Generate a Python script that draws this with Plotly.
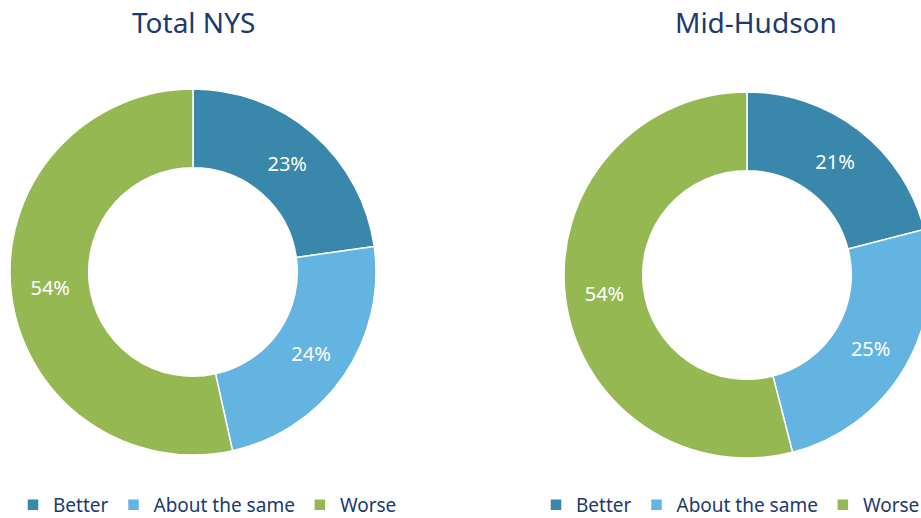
import plotly.graph_objects as go

categories = ["Better", "About the same", "Worse"]
total_nys = [23, 24, 54]
mid_hudson = [21, 25, 54]
titles = ["Total NYS", "Mid-Hudson"]

colors = ["#3A87AC", "#64B4E2", "#95B853"]
navy = "#1B3A6E"
W, H = 930, 518  # slightly wider than the window: the right donut is clipped in the reference


def xdom(left, right):
    return [left / W, right / W]


def ydom(top, bottom):
    return [(H - bottom) / H, (H - top) / H]


fig = go.Figure()
fig.add_trace(go.Pie(
    labels=categories, values=total_nys, hole=0.57, sort=False,
    direction="clockwise", rotation=0,
    marker=dict(colors=colors, line=dict(color="white", width=1.5)),
    texttemplate="%{value}%", textposition="inside",
    insidetextorientation="horizontal",
    textfont=dict(color="white", size=20, family="Noto Sans"),
    domain=dict(x=xdom(10, 376), y=ydom(89, 455)),
    legend="legend", legendgroup="nys", hoverinfo="label+value",
))
fig.add_trace(go.Pie(
    labels=categories, values=mid_hudson, hole=0.57, sort=False,
    direction="clockwise", rotation=0,
    marker=dict(colors=colors, line=dict(color="white", width=1.5)),
    texttemplate="%{value}%", textposition="inside",
    insidetextorientation="horizontal",
    textfont=dict(color="white", size=20, family="Noto Sans"),
    domain=dict(x=xdom(564, 930), y=ydom(92, 458)),
    legend="legend2", legendgroup="midhudson", hoverinfo="label+value",
))

legend_common = dict(
    orientation="h", yanchor="middle", xanchor="left", traceorder="normal",
    font=dict(size=19, color=navy, family="Noto Sans"),
    bgcolor="rgba(0,0,0,0)", itemclick=False, itemdoubleclick=False,
)
fig.update_layout(
    width=W, height=H,
    margin=dict(l=0, r=0, t=0, b=0, autoexpand=False),
    paper_bgcolor="white", plot_bgcolor="white",
    legend=dict(x=13 / W, y=1 - 505 / H, **legend_common),
    legend2=dict(x=536 / W, y=1 - 505 / H, **legend_common),
    annotations=[
        dict(text=titles[0], x=193 / W, y=1 - 22 / H, xref="paper", yref="paper",
             showarrow=False, xanchor="center", yanchor="middle",
             font=dict(size=28, color=navy, family="Noto Sans")),
        dict(text=titles[1], x=756 / W, y=1 - 22 / H, xref="paper", yref="paper",
             showarrow=False, xanchor="center", yanchor="middle",
             font=dict(size=28, color=navy, family="Noto Sans")),
    ],
)

fig.write_html(
    "out.html",
    config={"displayModeBar": False},
    post_script="document.body.style.margin='0';"
                "document.body.style.overflow='hidden';"
                "document.documentElement.style.overflow='hidden';",
)
